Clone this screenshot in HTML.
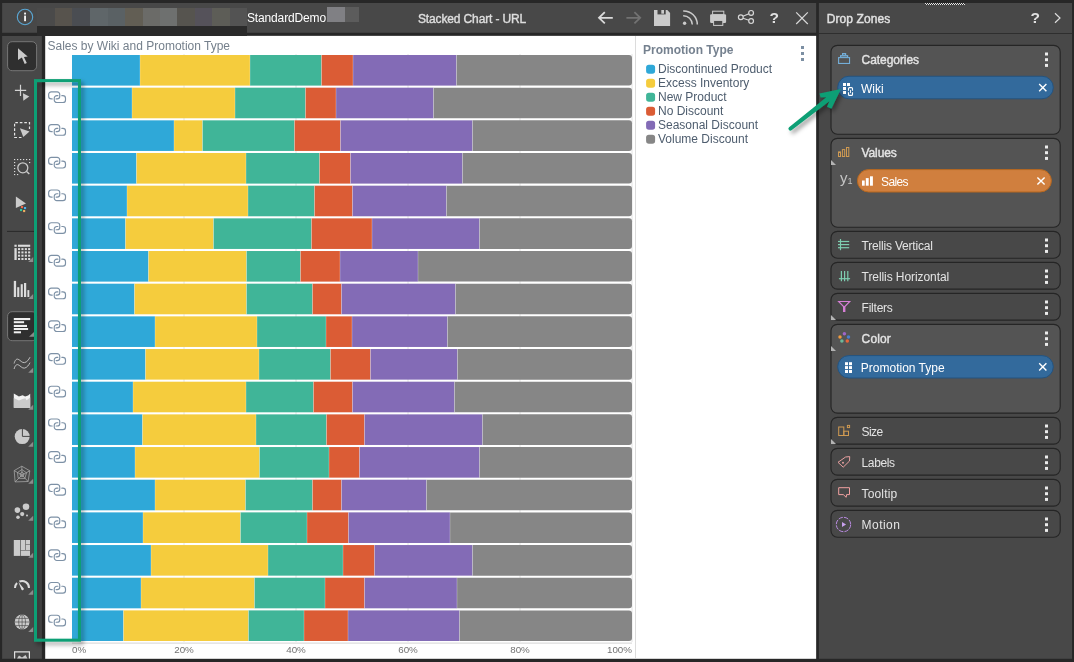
<!DOCTYPE html>
<html><head><meta charset="utf-8"><title>Stacked Chart - URL</title>
<style>
*{box-sizing:border-box;margin:0;padding:0}
html,body{width:1074px;height:662px;overflow:hidden;background:#272727}
body{position:relative;font-family:"Liberation Sans",sans-serif;color:#e6e6e6}
.abs{position:absolute}
.t{position:absolute;white-space:nowrap;line-height:1}
svg{position:absolute;left:0;top:0;overflow:visible}
</style></head><body>
<svg width="1074" height="662" viewBox="0 0 1074 662">
<rect x="2.1" y="3" width="814.05" height="29.8" fill="#484848"/>
<rect x="2.1" y="36" width="39.8" height="622.8" fill="#484848"/>
<rect x="45.2" y="35.85" width="770.95" height="622.95" fill="#fff"/>
<rect x="818.9" y="3" width="253.15" height="655.8" fill="#484848"/>
<rect x="37" y="26" width="210" height="10" fill="#2a2a2a"/>
</svg>

<!-- HEADER -->
<svg width="1074" height="40" viewBox="0 0 1074 40" shape-rendering="crispEdges">
<g id="blur">
<rect x="37" y="8" width="18" height="18" fill="#4a4a4a"/><rect x="55" y="8" width="17" height="18" fill="#57534d"/>
<rect x="72" y="8" width="18" height="18" fill="#4a4d52"/><rect x="90" y="8" width="18" height="18" fill="#5f6669"/>
<rect x="108" y="8" width="17" height="18" fill="#5a6164"/><rect x="125" y="8" width="18" height="18" fill="#625e54"/>
<rect x="143" y="8" width="17" height="18" fill="#6b6b68"/><rect x="160" y="8" width="17" height="18" fill="#6e706f"/>
<rect x="177" y="8" width="18" height="18" fill="#56544f"/><rect x="195" y="8" width="17" height="18" fill="#55525a"/>
<rect x="212" y="8" width="18" height="18" fill="#5d5d57"/><rect x="230" y="8" width="17" height="18" fill="#535353"/>
<rect x="327" y="7" width="18" height="15" fill="#808084"/><rect x="345" y="7" width="14" height="15" fill="#5c5c5c"/>
</g>
</svg>
<div class="t" style="left:769.5px;top:9.6px;font-size:15.5px;font-weight:bold;color:#e2e2e2">?</div>
<div class="t" style="left:247px;top:11.7px;font-size:12px;letter-spacing:-0.15px;color:#fff">StandardDemo</div>
<div class="t" style="left:418px;top:12.8px;font-size:12px;letter-spacing:-0.14px;-webkit-text-stroke:0.4px #dedede;color:#dedede">Stacked Chart - URL</div>

<!-- CHART -->
<div class="t" style="left:47.5px;top:40px;font-size:12px;color:#75808c">Sales by Wiki and Promotion Type</div>
<svg width="1074" height="662" viewBox="0 0 1074 662">

<g shape-rendering="auto">
<!-- grid -->
<g stroke="#e4e4e4" stroke-width="1">
<line x1="184" y1="54" x2="184" y2="642"/><line x1="296" y1="54" x2="296" y2="642"/><line x1="408" y1="54" x2="408" y2="642"/><line x1="520" y1="54" x2="520" y2="642"/><line x1="632" y1="54" x2="632" y2="642"/>
<line x1="72" y1="643.1" x2="632" y2="643.1" stroke="#d4d4d4"/>
<line x1="635.5" y1="36" x2="635.5" y2="658" stroke="#dcdcdc"/>
</g>
<rect x="72.0" y="55.00" width="68.0" height="30.6" fill="#2fa8d8"/>
<rect x="140.0" y="55.00" width="110.0" height="30.6" fill="#f5cc3d"/>
<rect x="250.0" y="55.00" width="71.5" height="30.6" fill="#40b598"/>
<rect x="321.5" y="55.00" width="31.5" height="30.6" fill="#db5c35"/>
<rect x="353.0" y="55.00" width="103.5" height="30.6" fill="#836bb6"/>
<path d="M456.5 55.00h172.5a3 3 0 0 1 3 3v24.6a3 3 0 0 1 -3 3h-172.5z" fill="#868686"/>
<rect x="139.5" y="55.00" width="1" height="30.6" fill="#fff" opacity=".26"/>
<rect x="249.5" y="55.00" width="1" height="30.6" fill="#fff" opacity=".26"/>
<rect x="321.0" y="55.00" width="1" height="30.6" fill="#fff" opacity=".26"/>
<rect x="352.5" y="55.00" width="1" height="30.6" fill="#fff" opacity=".26"/>
<rect x="456.0" y="55.00" width="1" height="30.6" fill="#fff" opacity=".26"/>
<rect x="72.0" y="87.67" width="60.0" height="30.6" fill="#2fa8d8"/>
<rect x="132.0" y="87.67" width="103.0" height="30.6" fill="#f5cc3d"/>
<rect x="235.0" y="87.67" width="70.5" height="30.6" fill="#40b598"/>
<rect x="305.5" y="87.67" width="30.5" height="30.6" fill="#db5c35"/>
<rect x="336.0" y="87.67" width="97.5" height="30.6" fill="#836bb6"/>
<path d="M433.5 87.67h195.5a3 3 0 0 1 3 3v24.6a3 3 0 0 1 -3 3h-195.5z" fill="#868686"/>
<rect x="131.5" y="87.67" width="1" height="30.6" fill="#fff" opacity=".26"/>
<rect x="234.5" y="87.67" width="1" height="30.6" fill="#fff" opacity=".26"/>
<rect x="305.0" y="87.67" width="1" height="30.6" fill="#fff" opacity=".26"/>
<rect x="335.5" y="87.67" width="1" height="30.6" fill="#fff" opacity=".26"/>
<rect x="433.0" y="87.67" width="1" height="30.6" fill="#fff" opacity=".26"/>
<rect x="72.0" y="120.34" width="102.0" height="30.6" fill="#2fa8d8"/>
<rect x="174.0" y="120.34" width="28.5" height="30.6" fill="#f5cc3d"/>
<rect x="202.5" y="120.34" width="92.0" height="30.6" fill="#40b598"/>
<rect x="294.5" y="120.34" width="46.0" height="30.6" fill="#db5c35"/>
<rect x="340.5" y="120.34" width="132.0" height="30.6" fill="#836bb6"/>
<path d="M472.5 120.34h156.5a3 3 0 0 1 3 3v24.6a3 3 0 0 1 -3 3h-156.5z" fill="#868686"/>
<rect x="173.5" y="120.34" width="1" height="30.6" fill="#fff" opacity=".26"/>
<rect x="202.0" y="120.34" width="1" height="30.6" fill="#fff" opacity=".26"/>
<rect x="294.0" y="120.34" width="1" height="30.6" fill="#fff" opacity=".26"/>
<rect x="340.0" y="120.34" width="1" height="30.6" fill="#fff" opacity=".26"/>
<rect x="472.0" y="120.34" width="1" height="30.6" fill="#fff" opacity=".26"/>
<rect x="72.0" y="153.01" width="64.5" height="30.6" fill="#2fa8d8"/>
<rect x="136.5" y="153.01" width="109.5" height="30.6" fill="#f5cc3d"/>
<rect x="246.0" y="153.01" width="73.5" height="30.6" fill="#40b598"/>
<rect x="319.5" y="153.01" width="31.0" height="30.6" fill="#db5c35"/>
<rect x="350.5" y="153.01" width="112.0" height="30.6" fill="#836bb6"/>
<path d="M462.5 153.01h166.5a3 3 0 0 1 3 3v24.6a3 3 0 0 1 -3 3h-166.5z" fill="#868686"/>
<rect x="136.0" y="153.01" width="1" height="30.6" fill="#fff" opacity=".26"/>
<rect x="245.5" y="153.01" width="1" height="30.6" fill="#fff" opacity=".26"/>
<rect x="319.0" y="153.01" width="1" height="30.6" fill="#fff" opacity=".26"/>
<rect x="350.0" y="153.01" width="1" height="30.6" fill="#fff" opacity=".26"/>
<rect x="462.0" y="153.01" width="1" height="30.6" fill="#fff" opacity=".26"/>
<rect x="72.0" y="185.68" width="55.0" height="30.6" fill="#2fa8d8"/>
<rect x="127.0" y="185.68" width="121.0" height="30.6" fill="#f5cc3d"/>
<rect x="248.0" y="185.68" width="66.5" height="30.6" fill="#40b598"/>
<rect x="314.5" y="185.68" width="38.0" height="30.6" fill="#db5c35"/>
<rect x="352.5" y="185.68" width="94.0" height="30.6" fill="#836bb6"/>
<path d="M446.5 185.68h182.5a3 3 0 0 1 3 3v24.6a3 3 0 0 1 -3 3h-182.5z" fill="#868686"/>
<rect x="126.5" y="185.68" width="1" height="30.6" fill="#fff" opacity=".26"/>
<rect x="247.5" y="185.68" width="1" height="30.6" fill="#fff" opacity=".26"/>
<rect x="314.0" y="185.68" width="1" height="30.6" fill="#fff" opacity=".26"/>
<rect x="352.0" y="185.68" width="1" height="30.6" fill="#fff" opacity=".26"/>
<rect x="446.0" y="185.68" width="1" height="30.6" fill="#fff" opacity=".26"/>
<rect x="72.0" y="218.35" width="53.5" height="30.6" fill="#2fa8d8"/>
<rect x="125.5" y="218.35" width="88.0" height="30.6" fill="#f5cc3d"/>
<rect x="213.5" y="218.35" width="98.0" height="30.6" fill="#40b598"/>
<rect x="311.5" y="218.35" width="60.5" height="30.6" fill="#db5c35"/>
<rect x="372.0" y="218.35" width="107.5" height="30.6" fill="#836bb6"/>
<path d="M479.5 218.35h149.5a3 3 0 0 1 3 3v24.6a3 3 0 0 1 -3 3h-149.5z" fill="#868686"/>
<rect x="125.0" y="218.35" width="1" height="30.6" fill="#fff" opacity=".26"/>
<rect x="213.0" y="218.35" width="1" height="30.6" fill="#fff" opacity=".26"/>
<rect x="311.0" y="218.35" width="1" height="30.6" fill="#fff" opacity=".26"/>
<rect x="371.5" y="218.35" width="1" height="30.6" fill="#fff" opacity=".26"/>
<rect x="479.0" y="218.35" width="1" height="30.6" fill="#fff" opacity=".26"/>
<rect x="72.0" y="251.02" width="76.5" height="30.6" fill="#2fa8d8"/>
<rect x="148.5" y="251.02" width="98.0" height="30.6" fill="#f5cc3d"/>
<rect x="246.5" y="251.02" width="54.0" height="30.6" fill="#40b598"/>
<rect x="300.5" y="251.02" width="39.5" height="30.6" fill="#db5c35"/>
<rect x="340.0" y="251.02" width="78.0" height="30.6" fill="#836bb6"/>
<path d="M418.0 251.02h211.0a3 3 0 0 1 3 3v24.6a3 3 0 0 1 -3 3h-211.0z" fill="#868686"/>
<rect x="148.0" y="251.02" width="1" height="30.6" fill="#fff" opacity=".26"/>
<rect x="246.0" y="251.02" width="1" height="30.6" fill="#fff" opacity=".26"/>
<rect x="300.0" y="251.02" width="1" height="30.6" fill="#fff" opacity=".26"/>
<rect x="339.5" y="251.02" width="1" height="30.6" fill="#fff" opacity=".26"/>
<rect x="417.5" y="251.02" width="1" height="30.6" fill="#fff" opacity=".26"/>
<rect x="72.0" y="283.69" width="62.5" height="30.6" fill="#2fa8d8"/>
<rect x="134.5" y="283.69" width="112.0" height="30.6" fill="#f5cc3d"/>
<rect x="246.5" y="283.69" width="66.0" height="30.6" fill="#40b598"/>
<rect x="312.5" y="283.69" width="29.0" height="30.6" fill="#db5c35"/>
<rect x="341.5" y="283.69" width="114.0" height="30.6" fill="#836bb6"/>
<path d="M455.5 283.69h173.5a3 3 0 0 1 3 3v24.6a3 3 0 0 1 -3 3h-173.5z" fill="#868686"/>
<rect x="134.0" y="283.69" width="1" height="30.6" fill="#fff" opacity=".26"/>
<rect x="246.0" y="283.69" width="1" height="30.6" fill="#fff" opacity=".26"/>
<rect x="312.0" y="283.69" width="1" height="30.6" fill="#fff" opacity=".26"/>
<rect x="341.0" y="283.69" width="1" height="30.6" fill="#fff" opacity=".26"/>
<rect x="455.0" y="283.69" width="1" height="30.6" fill="#fff" opacity=".26"/>
<rect x="72.0" y="316.36" width="83.0" height="30.6" fill="#2fa8d8"/>
<rect x="155.0" y="316.36" width="102.0" height="30.6" fill="#f5cc3d"/>
<rect x="257.0" y="316.36" width="69.0" height="30.6" fill="#40b598"/>
<rect x="326.0" y="316.36" width="26.0" height="30.6" fill="#db5c35"/>
<rect x="352.0" y="316.36" width="95.5" height="30.6" fill="#836bb6"/>
<path d="M447.5 316.36h181.5a3 3 0 0 1 3 3v24.6a3 3 0 0 1 -3 3h-181.5z" fill="#868686"/>
<rect x="154.5" y="316.36" width="1" height="30.6" fill="#fff" opacity=".26"/>
<rect x="256.5" y="316.36" width="1" height="30.6" fill="#fff" opacity=".26"/>
<rect x="325.5" y="316.36" width="1" height="30.6" fill="#fff" opacity=".26"/>
<rect x="351.5" y="316.36" width="1" height="30.6" fill="#fff" opacity=".26"/>
<rect x="447.0" y="316.36" width="1" height="30.6" fill="#fff" opacity=".26"/>
<rect x="72.0" y="349.03" width="73.5" height="30.6" fill="#2fa8d8"/>
<rect x="145.5" y="349.03" width="113.5" height="30.6" fill="#f5cc3d"/>
<rect x="259.0" y="349.03" width="71.5" height="30.6" fill="#40b598"/>
<rect x="330.5" y="349.03" width="40.0" height="30.6" fill="#db5c35"/>
<rect x="370.5" y="349.03" width="87.0" height="30.6" fill="#836bb6"/>
<path d="M457.5 349.03h171.5a3 3 0 0 1 3 3v24.6a3 3 0 0 1 -3 3h-171.5z" fill="#868686"/>
<rect x="145.0" y="349.03" width="1" height="30.6" fill="#fff" opacity=".26"/>
<rect x="258.5" y="349.03" width="1" height="30.6" fill="#fff" opacity=".26"/>
<rect x="330.0" y="349.03" width="1" height="30.6" fill="#fff" opacity=".26"/>
<rect x="370.0" y="349.03" width="1" height="30.6" fill="#fff" opacity=".26"/>
<rect x="457.0" y="349.03" width="1" height="30.6" fill="#fff" opacity=".26"/>
<rect x="72.0" y="381.70" width="61.0" height="30.6" fill="#2fa8d8"/>
<rect x="133.0" y="381.70" width="113.0" height="30.6" fill="#f5cc3d"/>
<rect x="246.0" y="381.70" width="67.5" height="30.6" fill="#40b598"/>
<rect x="313.5" y="381.70" width="39.0" height="30.6" fill="#db5c35"/>
<rect x="352.5" y="381.70" width="102.0" height="30.6" fill="#836bb6"/>
<path d="M454.5 381.70h174.5a3 3 0 0 1 3 3v24.6a3 3 0 0 1 -3 3h-174.5z" fill="#868686"/>
<rect x="132.5" y="381.70" width="1" height="30.6" fill="#fff" opacity=".26"/>
<rect x="245.5" y="381.70" width="1" height="30.6" fill="#fff" opacity=".26"/>
<rect x="313.0" y="381.70" width="1" height="30.6" fill="#fff" opacity=".26"/>
<rect x="352.0" y="381.70" width="1" height="30.6" fill="#fff" opacity=".26"/>
<rect x="454.0" y="381.70" width="1" height="30.6" fill="#fff" opacity=".26"/>
<rect x="72.0" y="414.37" width="70.5" height="30.6" fill="#2fa8d8"/>
<rect x="142.5" y="414.37" width="113.5" height="30.6" fill="#f5cc3d"/>
<rect x="256.0" y="414.37" width="70.5" height="30.6" fill="#40b598"/>
<rect x="326.5" y="414.37" width="38.0" height="30.6" fill="#db5c35"/>
<rect x="364.5" y="414.37" width="118.0" height="30.6" fill="#836bb6"/>
<path d="M482.5 414.37h146.5a3 3 0 0 1 3 3v24.6a3 3 0 0 1 -3 3h-146.5z" fill="#868686"/>
<rect x="142.0" y="414.37" width="1" height="30.6" fill="#fff" opacity=".26"/>
<rect x="255.5" y="414.37" width="1" height="30.6" fill="#fff" opacity=".26"/>
<rect x="326.0" y="414.37" width="1" height="30.6" fill="#fff" opacity=".26"/>
<rect x="364.0" y="414.37" width="1" height="30.6" fill="#fff" opacity=".26"/>
<rect x="482.0" y="414.37" width="1" height="30.6" fill="#fff" opacity=".26"/>
<rect x="72.0" y="447.04" width="63.0" height="30.6" fill="#2fa8d8"/>
<rect x="135.0" y="447.04" width="124.5" height="30.6" fill="#f5cc3d"/>
<rect x="259.5" y="447.04" width="69.5" height="30.6" fill="#40b598"/>
<rect x="329.0" y="447.04" width="30.5" height="30.6" fill="#db5c35"/>
<rect x="359.5" y="447.04" width="120.0" height="30.6" fill="#836bb6"/>
<path d="M479.5 447.04h149.5a3 3 0 0 1 3 3v24.6a3 3 0 0 1 -3 3h-149.5z" fill="#868686"/>
<rect x="134.5" y="447.04" width="1" height="30.6" fill="#fff" opacity=".26"/>
<rect x="259.0" y="447.04" width="1" height="30.6" fill="#fff" opacity=".26"/>
<rect x="328.5" y="447.04" width="1" height="30.6" fill="#fff" opacity=".26"/>
<rect x="359.0" y="447.04" width="1" height="30.6" fill="#fff" opacity=".26"/>
<rect x="479.0" y="447.04" width="1" height="30.6" fill="#fff" opacity=".26"/>
<rect x="72.0" y="479.71" width="83.0" height="30.6" fill="#2fa8d8"/>
<rect x="155.0" y="479.71" width="90.5" height="30.6" fill="#f5cc3d"/>
<rect x="245.5" y="479.71" width="67.0" height="30.6" fill="#40b598"/>
<rect x="312.5" y="479.71" width="29.0" height="30.6" fill="#db5c35"/>
<rect x="341.5" y="479.71" width="85.0" height="30.6" fill="#836bb6"/>
<path d="M426.5 479.71h202.5a3 3 0 0 1 3 3v24.6a3 3 0 0 1 -3 3h-202.5z" fill="#868686"/>
<rect x="154.5" y="479.71" width="1" height="30.6" fill="#fff" opacity=".26"/>
<rect x="245.0" y="479.71" width="1" height="30.6" fill="#fff" opacity=".26"/>
<rect x="312.0" y="479.71" width="1" height="30.6" fill="#fff" opacity=".26"/>
<rect x="341.0" y="479.71" width="1" height="30.6" fill="#fff" opacity=".26"/>
<rect x="426.0" y="479.71" width="1" height="30.6" fill="#fff" opacity=".26"/>
<rect x="72.0" y="512.38" width="71.0" height="30.6" fill="#2fa8d8"/>
<rect x="143.0" y="512.38" width="97.5" height="30.6" fill="#f5cc3d"/>
<rect x="240.5" y="512.38" width="66.5" height="30.6" fill="#40b598"/>
<rect x="307.0" y="512.38" width="41.5" height="30.6" fill="#db5c35"/>
<rect x="348.5" y="512.38" width="101.5" height="30.6" fill="#836bb6"/>
<path d="M450.0 512.38h179.0a3 3 0 0 1 3 3v24.6a3 3 0 0 1 -3 3h-179.0z" fill="#868686"/>
<rect x="142.5" y="512.38" width="1" height="30.6" fill="#fff" opacity=".26"/>
<rect x="240.0" y="512.38" width="1" height="30.6" fill="#fff" opacity=".26"/>
<rect x="306.5" y="512.38" width="1" height="30.6" fill="#fff" opacity=".26"/>
<rect x="348.0" y="512.38" width="1" height="30.6" fill="#fff" opacity=".26"/>
<rect x="449.5" y="512.38" width="1" height="30.6" fill="#fff" opacity=".26"/>
<rect x="72.0" y="545.05" width="79.0" height="30.6" fill="#2fa8d8"/>
<rect x="151.0" y="545.05" width="117.0" height="30.6" fill="#f5cc3d"/>
<rect x="268.0" y="545.05" width="75.0" height="30.6" fill="#40b598"/>
<rect x="343.0" y="545.05" width="31.5" height="30.6" fill="#db5c35"/>
<rect x="374.5" y="545.05" width="98.0" height="30.6" fill="#836bb6"/>
<path d="M472.5 545.05h156.5a3 3 0 0 1 3 3v24.6a3 3 0 0 1 -3 3h-156.5z" fill="#868686"/>
<rect x="150.5" y="545.05" width="1" height="30.6" fill="#fff" opacity=".26"/>
<rect x="267.5" y="545.05" width="1" height="30.6" fill="#fff" opacity=".26"/>
<rect x="342.5" y="545.05" width="1" height="30.6" fill="#fff" opacity=".26"/>
<rect x="374.0" y="545.05" width="1" height="30.6" fill="#fff" opacity=".26"/>
<rect x="472.0" y="545.05" width="1" height="30.6" fill="#fff" opacity=".26"/>
<rect x="72.0" y="577.72" width="69.0" height="30.6" fill="#2fa8d8"/>
<rect x="141.0" y="577.72" width="113.5" height="30.6" fill="#f5cc3d"/>
<rect x="254.5" y="577.72" width="70.5" height="30.6" fill="#40b598"/>
<rect x="325.0" y="577.72" width="39.5" height="30.6" fill="#db5c35"/>
<rect x="364.5" y="577.72" width="92.5" height="30.6" fill="#836bb6"/>
<path d="M457.0 577.72h172.0a3 3 0 0 1 3 3v24.6a3 3 0 0 1 -3 3h-172.0z" fill="#868686"/>
<rect x="140.5" y="577.72" width="1" height="30.6" fill="#fff" opacity=".26"/>
<rect x="254.0" y="577.72" width="1" height="30.6" fill="#fff" opacity=".26"/>
<rect x="324.5" y="577.72" width="1" height="30.6" fill="#fff" opacity=".26"/>
<rect x="364.0" y="577.72" width="1" height="30.6" fill="#fff" opacity=".26"/>
<rect x="456.5" y="577.72" width="1" height="30.6" fill="#fff" opacity=".26"/>
<rect x="72.0" y="610.39" width="51.5" height="30.6" fill="#2fa8d8"/>
<rect x="123.5" y="610.39" width="125.0" height="30.6" fill="#f5cc3d"/>
<rect x="248.5" y="610.39" width="55.5" height="30.6" fill="#40b598"/>
<rect x="304.0" y="610.39" width="44.0" height="30.6" fill="#db5c35"/>
<rect x="348.0" y="610.39" width="111.5" height="30.6" fill="#836bb6"/>
<path d="M459.5 610.39h169.5a3 3 0 0 1 3 3v24.6a3 3 0 0 1 -3 3h-169.5z" fill="#868686"/>
<rect x="123.0" y="610.39" width="1" height="30.6" fill="#fff" opacity=".26"/>
<rect x="248.0" y="610.39" width="1" height="30.6" fill="#fff" opacity=".26"/>
<rect x="303.5" y="610.39" width="1" height="30.6" fill="#fff" opacity=".26"/>
<rect x="347.5" y="610.39" width="1" height="30.6" fill="#fff" opacity=".26"/>
<rect x="459.0" y="610.39" width="1" height="30.6" fill="#fff" opacity=".26"/>
<g fill="none" stroke="#7d91a6" stroke-width="1.15" stroke-linecap="round"><g transform="translate(48.1 91.33)"><path d="M8 7.6H9.05A2.6 2.6 0 0 0 11.65 5V3.15A2.6 2.6 0 0 0 9.05 .55H3.15A2.6 2.6 0 0 0 .55 3.15V5A2.6 2.6 0 0 0 3.15 7.6H4.1"/><path d="M9.8 4.3H8.75A2.6 2.6 0 0 0 6.15 6.9V8.6A2.6 2.6 0 0 0 8.75 11.2H14.8A2.6 2.6 0 0 0 17.4 8.6V6.9A2.6 2.6 0 0 0 14.8 4.3H13.7"/></g>
<g transform="translate(48.1 124.04)"><path d="M8 7.6H9.05A2.6 2.6 0 0 0 11.65 5V3.15A2.6 2.6 0 0 0 9.05 .55H3.15A2.6 2.6 0 0 0 .55 3.15V5A2.6 2.6 0 0 0 3.15 7.6H4.1"/><path d="M9.8 4.3H8.75A2.6 2.6 0 0 0 6.15 6.9V8.6A2.6 2.6 0 0 0 8.75 11.2H14.8A2.6 2.6 0 0 0 17.4 8.6V6.9A2.6 2.6 0 0 0 14.8 4.3H13.7"/></g>
<g transform="translate(48.1 156.75)"><path d="M8 7.6H9.05A2.6 2.6 0 0 0 11.65 5V3.15A2.6 2.6 0 0 0 9.05 .55H3.15A2.6 2.6 0 0 0 .55 3.15V5A2.6 2.6 0 0 0 3.15 7.6H4.1"/><path d="M9.8 4.3H8.75A2.6 2.6 0 0 0 6.15 6.9V8.6A2.6 2.6 0 0 0 8.75 11.2H14.8A2.6 2.6 0 0 0 17.4 8.6V6.9A2.6 2.6 0 0 0 14.8 4.3H13.7"/></g>
<g transform="translate(48.1 189.46)"><path d="M8 7.6H9.05A2.6 2.6 0 0 0 11.65 5V3.15A2.6 2.6 0 0 0 9.05 .55H3.15A2.6 2.6 0 0 0 .55 3.15V5A2.6 2.6 0 0 0 3.15 7.6H4.1"/><path d="M9.8 4.3H8.75A2.6 2.6 0 0 0 6.15 6.9V8.6A2.6 2.6 0 0 0 8.75 11.2H14.8A2.6 2.6 0 0 0 17.4 8.6V6.9A2.6 2.6 0 0 0 14.8 4.3H13.7"/></g>
<g transform="translate(48.1 222.17)"><path d="M8 7.6H9.05A2.6 2.6 0 0 0 11.65 5V3.15A2.6 2.6 0 0 0 9.05 .55H3.15A2.6 2.6 0 0 0 .55 3.15V5A2.6 2.6 0 0 0 3.15 7.6H4.1"/><path d="M9.8 4.3H8.75A2.6 2.6 0 0 0 6.15 6.9V8.6A2.6 2.6 0 0 0 8.75 11.2H14.8A2.6 2.6 0 0 0 17.4 8.6V6.9A2.6 2.6 0 0 0 14.8 4.3H13.7"/></g>
<g transform="translate(48.1 254.88)"><path d="M8 7.6H9.05A2.6 2.6 0 0 0 11.65 5V3.15A2.6 2.6 0 0 0 9.05 .55H3.15A2.6 2.6 0 0 0 .55 3.15V5A2.6 2.6 0 0 0 3.15 7.6H4.1"/><path d="M9.8 4.3H8.75A2.6 2.6 0 0 0 6.15 6.9V8.6A2.6 2.6 0 0 0 8.75 11.2H14.8A2.6 2.6 0 0 0 17.4 8.6V6.9A2.6 2.6 0 0 0 14.8 4.3H13.7"/></g>
<g transform="translate(48.1 287.59)"><path d="M8 7.6H9.05A2.6 2.6 0 0 0 11.65 5V3.15A2.6 2.6 0 0 0 9.05 .55H3.15A2.6 2.6 0 0 0 .55 3.15V5A2.6 2.6 0 0 0 3.15 7.6H4.1"/><path d="M9.8 4.3H8.75A2.6 2.6 0 0 0 6.15 6.9V8.6A2.6 2.6 0 0 0 8.75 11.2H14.8A2.6 2.6 0 0 0 17.4 8.6V6.9A2.6 2.6 0 0 0 14.8 4.3H13.7"/></g>
<g transform="translate(48.1 320.30)"><path d="M8 7.6H9.05A2.6 2.6 0 0 0 11.65 5V3.15A2.6 2.6 0 0 0 9.05 .55H3.15A2.6 2.6 0 0 0 .55 3.15V5A2.6 2.6 0 0 0 3.15 7.6H4.1"/><path d="M9.8 4.3H8.75A2.6 2.6 0 0 0 6.15 6.9V8.6A2.6 2.6 0 0 0 8.75 11.2H14.8A2.6 2.6 0 0 0 17.4 8.6V6.9A2.6 2.6 0 0 0 14.8 4.3H13.7"/></g>
<g transform="translate(48.1 353.01)"><path d="M8 7.6H9.05A2.6 2.6 0 0 0 11.65 5V3.15A2.6 2.6 0 0 0 9.05 .55H3.15A2.6 2.6 0 0 0 .55 3.15V5A2.6 2.6 0 0 0 3.15 7.6H4.1"/><path d="M9.8 4.3H8.75A2.6 2.6 0 0 0 6.15 6.9V8.6A2.6 2.6 0 0 0 8.75 11.2H14.8A2.6 2.6 0 0 0 17.4 8.6V6.9A2.6 2.6 0 0 0 14.8 4.3H13.7"/></g>
<g transform="translate(48.1 385.72)"><path d="M8 7.6H9.05A2.6 2.6 0 0 0 11.65 5V3.15A2.6 2.6 0 0 0 9.05 .55H3.15A2.6 2.6 0 0 0 .55 3.15V5A2.6 2.6 0 0 0 3.15 7.6H4.1"/><path d="M9.8 4.3H8.75A2.6 2.6 0 0 0 6.15 6.9V8.6A2.6 2.6 0 0 0 8.75 11.2H14.8A2.6 2.6 0 0 0 17.4 8.6V6.9A2.6 2.6 0 0 0 14.8 4.3H13.7"/></g>
<g transform="translate(48.1 418.43)"><path d="M8 7.6H9.05A2.6 2.6 0 0 0 11.65 5V3.15A2.6 2.6 0 0 0 9.05 .55H3.15A2.6 2.6 0 0 0 .55 3.15V5A2.6 2.6 0 0 0 3.15 7.6H4.1"/><path d="M9.8 4.3H8.75A2.6 2.6 0 0 0 6.15 6.9V8.6A2.6 2.6 0 0 0 8.75 11.2H14.8A2.6 2.6 0 0 0 17.4 8.6V6.9A2.6 2.6 0 0 0 14.8 4.3H13.7"/></g>
<g transform="translate(48.1 451.14)"><path d="M8 7.6H9.05A2.6 2.6 0 0 0 11.65 5V3.15A2.6 2.6 0 0 0 9.05 .55H3.15A2.6 2.6 0 0 0 .55 3.15V5A2.6 2.6 0 0 0 3.15 7.6H4.1"/><path d="M9.8 4.3H8.75A2.6 2.6 0 0 0 6.15 6.9V8.6A2.6 2.6 0 0 0 8.75 11.2H14.8A2.6 2.6 0 0 0 17.4 8.6V6.9A2.6 2.6 0 0 0 14.8 4.3H13.7"/></g>
<g transform="translate(48.1 483.85)"><path d="M8 7.6H9.05A2.6 2.6 0 0 0 11.65 5V3.15A2.6 2.6 0 0 0 9.05 .55H3.15A2.6 2.6 0 0 0 .55 3.15V5A2.6 2.6 0 0 0 3.15 7.6H4.1"/><path d="M9.8 4.3H8.75A2.6 2.6 0 0 0 6.15 6.9V8.6A2.6 2.6 0 0 0 8.75 11.2H14.8A2.6 2.6 0 0 0 17.4 8.6V6.9A2.6 2.6 0 0 0 14.8 4.3H13.7"/></g>
<g transform="translate(48.1 516.56)"><path d="M8 7.6H9.05A2.6 2.6 0 0 0 11.65 5V3.15A2.6 2.6 0 0 0 9.05 .55H3.15A2.6 2.6 0 0 0 .55 3.15V5A2.6 2.6 0 0 0 3.15 7.6H4.1"/><path d="M9.8 4.3H8.75A2.6 2.6 0 0 0 6.15 6.9V8.6A2.6 2.6 0 0 0 8.75 11.2H14.8A2.6 2.6 0 0 0 17.4 8.6V6.9A2.6 2.6 0 0 0 14.8 4.3H13.7"/></g>
<g transform="translate(48.1 549.27)"><path d="M8 7.6H9.05A2.6 2.6 0 0 0 11.65 5V3.15A2.6 2.6 0 0 0 9.05 .55H3.15A2.6 2.6 0 0 0 .55 3.15V5A2.6 2.6 0 0 0 3.15 7.6H4.1"/><path d="M9.8 4.3H8.75A2.6 2.6 0 0 0 6.15 6.9V8.6A2.6 2.6 0 0 0 8.75 11.2H14.8A2.6 2.6 0 0 0 17.4 8.6V6.9A2.6 2.6 0 0 0 14.8 4.3H13.7"/></g>
<g transform="translate(48.1 581.98)"><path d="M8 7.6H9.05A2.6 2.6 0 0 0 11.65 5V3.15A2.6 2.6 0 0 0 9.05 .55H3.15A2.6 2.6 0 0 0 .55 3.15V5A2.6 2.6 0 0 0 3.15 7.6H4.1"/><path d="M9.8 4.3H8.75A2.6 2.6 0 0 0 6.15 6.9V8.6A2.6 2.6 0 0 0 8.75 11.2H14.8A2.6 2.6 0 0 0 17.4 8.6V6.9A2.6 2.6 0 0 0 14.8 4.3H13.7"/></g>
<g transform="translate(48.1 614.69)"><path d="M8 7.6H9.05A2.6 2.6 0 0 0 11.65 5V3.15A2.6 2.6 0 0 0 9.05 .55H3.15A2.6 2.6 0 0 0 .55 3.15V5A2.6 2.6 0 0 0 3.15 7.6H4.1"/><path d="M9.8 4.3H8.75A2.6 2.6 0 0 0 6.15 6.9V8.6A2.6 2.6 0 0 0 8.75 11.2H14.8A2.6 2.6 0 0 0 17.4 8.6V6.9A2.6 2.6 0 0 0 14.8 4.3H13.7"/></g></g>
</g>
<g font-family="Liberation Sans, sans-serif" font-size="9.8" fill="#727272">
<text x="72" y="653">0%</text><text x="184" y="653" text-anchor="middle">20%</text><text x="296" y="653" text-anchor="middle">40%</text><text x="408" y="653" text-anchor="middle">60%</text><text x="520" y="653" text-anchor="middle">80%</text><text x="632" y="653" text-anchor="end">100%</text>
</g>
<!-- legend -->
<g font-family="Liberation Sans, sans-serif" font-size="12" fill="#4e5d6e">
<text x="643" y="53.5" font-weight="bold" fill="#75818f">Promotion Type</text>
<text x="658" y="73">Discontinued Product</text>
<text x="658" y="87">Excess Inventory</text>
<text x="658" y="101">New Product</text>
<text x="658" y="115">No Discount</text>
<text x="658" y="129">Seasonal Discount</text>
<text x="658" y="143">Volume Discount</text>
</g>
<g>
<rect x="646.1" y="64.8" width="9" height="9" rx="2.8" fill="#2fa8d8"/>
<rect x="646.1" y="78.8" width="9" height="9" rx="2.8" fill="#f5cc3d"/>
<rect x="646.1" y="92.8" width="9" height="9" rx="2.8" fill="#40b598"/>
<rect x="646.1" y="106.8" width="9" height="9" rx="2.8" fill="#db5c35"/>
<rect x="646.1" y="120.8" width="9" height="9" rx="2.8" fill="#836bb6"/>
<rect x="646.1" y="134.8" width="9" height="9" rx="2.8" fill="#868686"/>
<g fill="#7c8fa3"><rect x="801" y="46" width="3" height="3"/><rect x="801" y="52" width="3" height="3"/><rect x="801" y="58" width="3" height="3"/></g>
</g>
</svg>
<svg width="1074" height="662" viewBox="0 0 1074 662">
<rect x="831" y="45.3" width="229.2" height="88.9" rx="6.5" fill="#545454" stroke="#252525" stroke-width="1.15"/>
<rect x="831" y="138.3" width="229.2" height="88.9" rx="6.5" fill="#545454" stroke="#252525" stroke-width="1.15"/>
<rect x="831" y="231.3" width="229.2" height="26.9" rx="6.5" fill="#484848" stroke="#252525" stroke-width="1.15"/>
<rect x="831" y="262.3" width="229.2" height="26.9" rx="6.5" fill="#484848" stroke="#252525" stroke-width="1.15"/>
<rect x="831" y="293.3" width="229.2" height="26.9" rx="6.5" fill="#484848" stroke="#252525" stroke-width="1.15"/>
<rect x="831" y="324.3" width="229.2" height="88.9" rx="6.5" fill="#545454" stroke="#252525" stroke-width="1.15"/>
<rect x="831" y="417.3" width="229.2" height="26.9" rx="6.5" fill="#484848" stroke="#252525" stroke-width="1.15"/>
<rect x="831" y="448.3" width="229.2" height="26.9" rx="6.5" fill="#484848" stroke="#252525" stroke-width="1.15"/>
<rect x="831" y="479.3" width="229.2" height="26.9" rx="6.5" fill="#484848" stroke="#252525" stroke-width="1.15"/>
<rect x="831" y="510.3" width="229.2" height="26.9" rx="6.5" fill="#484848" stroke="#252525" stroke-width="1.15"/>
<rect x="837.7" y="76.25" width="215.6" height="22.55" rx="11.25" fill="#336a9c" stroke="#24537f" stroke-width="1"/>
<rect x="857.4" y="169.6" width="194" height="22.4" rx="11.2" fill="#d07f3e" stroke="#b5671f" stroke-width="1"/>
<rect x="837.7" y="355.6" width="215.6" height="22.4" rx="11.2" fill="#336a9c" stroke="#24537f" stroke-width="1"/>
</svg>
<div class="abs" style="left:819px;top:32.7px;width:253px;height:1.3px;background:#2e2e2e"></div>
<div class="t" style="left:826.7px;top:13px;font-size:12px;letter-spacing:0.09px;-webkit-text-stroke:0.4px #e2e2e2;color:#e2e2e2">Drop Zones</div>
<div class="t" style="left:1030.6px;top:10.1px;font-size:15.5px;font-weight:bold;color:#e2e2e2">?</div>
<div class="t" style="left:861.6px;top:53.7px;font-size:12px;font-weight:normal;-webkit-text-stroke:0.4px #e4e4e4;letter-spacing:-0.06px;color:#e4e4e4">Categories</div>
<div class="t" style="left:861.6px;top:146.7px;font-size:12px;font-weight:normal;-webkit-text-stroke:0.4px #e4e4e4;letter-spacing:-0.14px;color:#e4e4e4">Values</div>
<div class="t" style="left:861.6px;top:239.7px;font-size:12px;font-weight:normal;letter-spacing:-0.2px;color:#e4e4e4">Trellis Vertical</div>
<div class="t" style="left:861.6px;top:270.7px;font-size:12px;font-weight:normal;letter-spacing:-0.08px;color:#e4e4e4">Trellis Horizontal</div>
<div class="t" style="left:861.6px;top:301.7px;font-size:12px;font-weight:normal;letter-spacing:-0.24px;color:#e4e4e4">Filters</div>
<div class="t" style="left:861.6px;top:332.7px;font-size:12px;font-weight:normal;-webkit-text-stroke:0.4px #e4e4e4;letter-spacing:0.14px;color:#e4e4e4">Color</div>
<div class="t" style="left:861.6px;top:425.7px;font-size:12px;font-weight:normal;letter-spacing:-0.59px;color:#e4e4e4">Size</div>
<div class="t" style="left:861.6px;top:456.7px;font-size:12px;font-weight:normal;letter-spacing:-0.4px;color:#e4e4e4">Labels</div>
<div class="t" style="left:861.6px;top:487.7px;font-size:12px;font-weight:normal;letter-spacing:0.14px;color:#e4e4e4">Tooltip</div>
<div class="t" style="left:861.6px;top:518.7px;font-size:12px;font-weight:normal;letter-spacing:0.44px;color:#e4e4e4">Motion</div>
<div class="t" style="left:861px;top:82.9px;font-size:12px;color:#fff">Wiki</div>
<div class="t" style="left:881px;top:176px;font-size:12px;letter-spacing:-0.6px;color:#fff">Sales</div>
<div class="t" style="left:860.8px;top:362.1px;font-size:12px;color:#fff">Promotion Type</div>
<div class="t" style="left:840px;top:169.5px;font-size:15px;color:#c4c4c4">y</div>
<div class="t" style="left:847.6px;top:177px;font-size:9px;color:#c4c4c4">1</div>
<svg width="1074" height="662" viewBox="0 0 1074 662">
<rect x="925" y="3" width="40" height="2" fill="#333"/><line x1="925" y1="3.5" x2="965" y2="3.5" stroke="#e6e6e6" stroke-width="1" stroke-dasharray="1 1"/><line x1="926" y1="4.5" x2="965" y2="4.5" stroke="#e6e6e6" stroke-width="1" stroke-dasharray="1 1"/>
<path d="M1055 13.2L1060 18L1055 22.8" fill="none" stroke="#dcdcdc" stroke-width="1.2"/>
<rect x="1045" y="52.5" width="3" height="3" fill="#ececec"/>
<rect x="1045" y="58.2" width="3" height="3" fill="#ececec"/>
<rect x="1045" y="63.9" width="3" height="3" fill="#ececec"/>
<rect x="1045" y="145.5" width="3" height="3" fill="#ececec"/>
<rect x="1045" y="151.2" width="3" height="3" fill="#ececec"/>
<rect x="1045" y="156.9" width="3" height="3" fill="#ececec"/>
<rect x="1045" y="238.5" width="3" height="3" fill="#ececec"/>
<rect x="1045" y="244.2" width="3" height="3" fill="#ececec"/>
<rect x="1045" y="249.9" width="3" height="3" fill="#ececec"/>
<rect x="1045" y="269.5" width="3" height="3" fill="#ececec"/>
<rect x="1045" y="275.2" width="3" height="3" fill="#ececec"/>
<rect x="1045" y="280.9" width="3" height="3" fill="#ececec"/>
<rect x="1045" y="300.5" width="3" height="3" fill="#ececec"/>
<rect x="1045" y="306.2" width="3" height="3" fill="#ececec"/>
<rect x="1045" y="311.9" width="3" height="3" fill="#ececec"/>
<rect x="1045" y="331.5" width="3" height="3" fill="#ececec"/>
<rect x="1045" y="337.2" width="3" height="3" fill="#ececec"/>
<rect x="1045" y="342.9" width="3" height="3" fill="#ececec"/>
<rect x="1045" y="424.5" width="3" height="3" fill="#ececec"/>
<rect x="1045" y="430.2" width="3" height="3" fill="#ececec"/>
<rect x="1045" y="435.9" width="3" height="3" fill="#ececec"/>
<rect x="1045" y="455.5" width="3" height="3" fill="#ececec"/>
<rect x="1045" y="461.2" width="3" height="3" fill="#ececec"/>
<rect x="1045" y="466.9" width="3" height="3" fill="#ececec"/>
<rect x="1045" y="486.5" width="3" height="3" fill="#ececec"/>
<rect x="1045" y="492.2" width="3" height="3" fill="#ececec"/>
<rect x="1045" y="497.9" width="3" height="3" fill="#ececec"/>
<rect x="1045" y="517.5" width="3" height="3" fill="#ececec"/>
<rect x="1045" y="523.2" width="3" height="3" fill="#ececec"/>
<rect x="1045" y="528.9" width="3" height="3" fill="#ececec"/>
<path d="M831 160.0L836 165.0H831z" fill="#b4b4b4"/>
<path d="M831 315.0L836 320.0H831z" fill="#b4b4b4"/>
<path d="M831 346.0L836 351.0H831z" fill="#b4b4b4"/>
<path d="M831 439.0L836 444.0H831z" fill="#b4b4b4"/>
<path d="M1039.2 84.10000000000001L1046.3999999999999 91.3M1046.3999999999999 84.10000000000001L1039.2 91.3" stroke="#fff" stroke-width="1.4" fill="none"/>
<path d="M1037.4 177.4L1044.6 184.6M1044.6 177.4L1037.4 184.6" stroke="#fff" stroke-width="1.4" fill="none"/>
<path d="M1039.2 363.29999999999995L1046.3999999999999 370.5M1046.3999999999999 363.29999999999995L1039.2 370.5" stroke="#fff" stroke-width="1.4" fill="none"/>
<rect x="838.6" y="57.6" width="10.95" height="5.85" fill="none" stroke="#74aed8" stroke-width="1.1"/><rect x="840" y="55.1" width="8.2" height="2.3" fill="#74aed8"/><rect x="841.2" y="56.25" width="5.8" height=".5" fill="#535353"/><rect x="842" y="53" width="4.2" height="2.3" fill="#74aed8"/><rect x="843.2" y="54" width="1.7" height=".8" rx=".4" fill="#535353"/>
<g fill="#fff"><rect x="843" y="83" width="3" height="3"/><rect x="847" y="83" width="3" height="3"/><rect x="843" y="87" width="3" height="3"/><rect x="843" y="91" width="3" height="3"/></g>
<g fill="none" stroke="#fff" stroke-width="1.1"><path d="M848.5 90.8V88.6A1 1 0 0 1 849.5 87.6H851.5A1 1 0 0 1 852.5 88.6V90.8M848.5 92.2V94.4A1 1 0 0 0 849.5 95.4H851.5A1 1 0 0 0 852.5 94.4V92.2"/><line x1="850.5" y1="89.9" x2="850.5" y2="93.1" stroke-width=".9"/></g>
<g fill="none" stroke="#cf9a52" stroke-width="1"><rect x="838.5" y="151.9" width="2" height="4.6"/><rect x="842.4" y="149.6" width="2.3" height="6.9"/><rect x="846.5" y="147.5" width="2.3" height="9"/></g>
<g fill="#fff"><rect x="862" y="180.5" width="2.7" height="5.2"/><rect x="865.8" y="178.1" width="2.9" height="7.6"/><rect x="870" y="176.3" width="2.9" height="9.4"/></g>
<g fill="none" stroke="#7ecdb0" stroke-width="1.2"><line x1="840.5" y1="239" x2="840.5" y2="250.2"/><line x1="838" y1="241.5" x2="849.2" y2="241.5"/><line x1="838" y1="244.6" x2="849.2" y2="244.6"/><line x1="838" y1="247.7" x2="849.2" y2="247.7"/></g>
<g fill="none" stroke="#7ecdb0" stroke-width="1.2"><line x1="841.4" y1="271" x2="841.4" y2="281.2"/><line x1="844.6" y1="271" x2="844.6" y2="281.2"/><line x1="847.8" y1="271" x2="847.8" y2="281.2"/><line x1="838.9" y1="278.7" x2="850.1" y2="278.7"/></g>
<path d="M838.6 301.5H849.8L844.2 307.2z" fill="none" stroke="#d67fd6" stroke-width="1.1" stroke-linejoin="miter"/><rect x="843" y="306.5" width="2.4" height="5.5" fill="#d67fd6"/>
<circle cx="844.4" cy="333.7" r="1.75" fill="#a066c8"/>
<circle cx="848.5" cy="336.9" r="1.75" fill="#4a7fd0"/>
<circle cx="840" cy="336.9" r="1.75" fill="#f09a3e"/>
<circle cx="841.9" cy="341" r="1.75" fill="#6db89a"/>
<circle cx="847.3" cy="341" r="1.75" fill="#e8663a"/>
<rect x="845" y="362.2" width="3" height="3" fill="#fff"/>
<rect x="849" y="362.2" width="3" height="3" fill="#fff"/>
<rect x="845" y="366.1" width="3" height="3" fill="#fff"/>
<rect x="849" y="366.1" width="3" height="3" fill="#fff"/>
<rect x="845" y="370.0" width="3" height="3" fill="#fff"/>
<rect x="849" y="370.0" width="3" height="3" fill="#fff"/>
<g fill="none" stroke="#cf9a52" stroke-width="1"><rect x="838.7" y="427" width="5.1" height="8.5"/><rect x="843.8" y="431.2" width="4.7" height="4.3"/><rect x="847.4" y="425.4" width="2.2" height="2.2"/></g>
<path d="M838 462.3L845.6 457L849.7 456.6L849.5 461L843.2 467.2z" fill="none" stroke="#e8a0a0" stroke-width="1" stroke-linejoin="round"/><circle cx="843" cy="462.8" r="1" fill="#e8a0a0"/>
<path d="M838.7 487.7H849.5V494.6H846.6L846.2 497.3L843.3 494.6H838.7z" fill="none" stroke="#f0a0a0" stroke-width="1"/>
<circle cx="843.5" cy="524.5" r="7.2" fill="none" stroke="#b98be0" stroke-width="1" stroke-dasharray="4.5 1.2"/><path d="M842 521.9V527.1L846.1 524.5z" fill="#c9a0ee"/>
</svg>
<svg width="1074" height="662" viewBox="0 0 1074 662">
<circle cx="25" cy="17" r="7.7" fill="none" stroke="#5aa7d4" stroke-width="1.1"/>
<rect x="24.1" y="15.6" width="1.9" height="5.6" fill="#f2f2f2"/><rect x="24.1" y="12.6" width="1.9" height="1.9" fill="#f2f2f2"/>
<path d="M612.8 17.8H599.2M604.8 12.2L599 17.8L604.8 23.4" fill="none" stroke="#dadada" stroke-width="1.8"/>
<path d="M626.4 17.8H640M634.4 12.2L640.2 17.8L634.4 23.4" fill="none" stroke="#727272" stroke-width="1.8"/>
<path d="M654 10H667.3L670.1 13V26H654z" fill="#cbcbcb"/><rect x="657.5" y="10" width="8.2" height="4.4" fill="#484848"/><rect x="661.3" y="10" width="2.7" height="3.7" fill="#cbcbcb"/>
<circle cx="684.6" cy="23.2" r="1.7" fill="#cbcbcb"/><path d="M683.2 10.9A13.6 13.6 0 0 1 697.3 24.6M683.2 15.7A9 9 0 0 1 692.3 24.6" fill="none" stroke="#cbcbcb" stroke-width="1.5"/>
<rect x="710.1" y="14.2" width="16" height="8.8" rx="1.2" fill="#cbcbcb"/><rect x="712.6" y="11.2" width="11.2" height="3.4" fill="#484848" stroke="#cbcbcb" stroke-width="1"/><rect x="713.6" y="20.4" width="9.2" height="5" fill="#484848" stroke="#cbcbcb" stroke-width="1"/>
<g fill="none" stroke="#d6d6d6" stroke-width="1.2"><circle cx="740.8" cy="17.3" r="2.4"/><circle cx="751.1" cy="12.9" r="2.4"/><circle cx="751.1" cy="21.1" r="2.4"/><path d="M743 16.3L748.9 13.8M743 18.3L748.9 20.2"/></g>
<path d="M796.2 12.3L807.8 24M807.8 12.3L796.2 24" fill="none" stroke="#d8d8d8" stroke-width="1.2"/>
<rect x="7.6" y="41.7" width="29" height="29" rx="4.5" fill="#2f2f2f" stroke="#767676" stroke-width="1"/>
<rect x="7.6" y="311.7" width="29" height="29" rx="4.5" fill="#2f2f2f" stroke="#767676" stroke-width="1"/>
<path d="M18 48.2V59.9L21.9 57.5L24.7 64.1L26.8 63L23.9 56.9L27.7 56.4z" fill="#cbcbcb"/>
<path d="M14.9 90.4H26.2M20.5 84.8V96.1" stroke="#d4d4d4" stroke-width="1.2" fill="none"/><path d="M23 93.2L29.3 96.5L23.3 100.7z" fill="#cbcbcb"/>
<path d="M29.5 129V122.6H14.6V137.5H22" fill="none" stroke="#e6e6e6" stroke-width="1.2" stroke-dasharray="2.6 1.9"/><path d="M19.9 128.3L29.5 131.4L23.3 137.1z" fill="#cbcbcb"/>
<g fill="#ececec"><rect x="14.1" y="159" width="1.1" height="1.1"/><rect x="17.1" y="159" width="1.1" height="1.1"/><rect x="20.1" y="159" width="1.1" height="1.1"/><rect x="23.1" y="159" width="1.1" height="1.1"/><rect x="26.1" y="159" width="1.1" height="1.1"/><rect x="29.1" y="159" width="1.1" height="1.1"/><rect x="14.1" y="162.0" width="1.1" height="1.1"/><rect x="14.1" y="165.0" width="1.1" height="1.1"/><rect x="14.1" y="168.0" width="1.1" height="1.1"/><rect x="14.1" y="171.0" width="1.1" height="1.1"/><rect x="14.1" y="174.0" width="1.1" height="1.1"/><rect x="29.1" y="162" width="1.1" height="1.1"/><rect x="17.1" y="174" width="1.1" height="1.1"/></g>
<circle cx="22.8" cy="167.8" r="5" fill="none" stroke="#cbcbcb" stroke-width="1.3"/><path d="M26.6 171.5L29.3 174.1" stroke="#cbcbcb" stroke-width="1.4"/>
<path d="M15.9 196.4L26 203.5L15.9 208.1z" fill="#cbcbcb"/>
<rect x="21" y="206" width="2.1" height="2.1" fill="#f06448"/><rect x="24" y="207" width="2.1" height="2.1" fill="#4db4f0"/><rect x="20" y="209" width="2.1" height="2.1" fill="#2ecc9a"/><rect x="23.1" y="210" width="2.1" height="2.1" fill="#f0b060"/>
<rect x="7" y="230.9" width="30" height="1" fill="#2a2a2a"/>
<path d="M33.2 257.0V262.0H28.2z" fill="#8d8d8d"/>
<path d="M33.2 293.9V298.9H28.2z" fill="#8d8d8d"/>
<path d="M33.2 367.8V372.8H28.2z" fill="#8d8d8d"/>
<path d="M33.2 404.8V409.8H28.2z" fill="#8d8d8d"/>
<path d="M33.2 441.8V446.8H28.2z" fill="#8d8d8d"/>
<path d="M33.2 478.8V483.8H28.2z" fill="#8d8d8d"/>
<path d="M33.2 515.8V520.8H28.2z" fill="#8d8d8d"/>
<path d="M33.2 552.8V557.8H28.2z" fill="#8d8d8d"/>
<path d="M33.2 589.8V594.8H28.2z" fill="#8d8d8d"/>
<path d="M33.2 627.0V632.0H28.2z" fill="#8d8d8d"/>
<path d="M34 332V336.8H29z" fill="#8d8d8d"/>
<g fill="#dcdcdc"><rect x="14.4" y="244.7" width="2.3" height="2.1"/><rect x="18" y="244.7" width="12.2" height="2.1"/><rect x="14.4" y="248.1" width="2.3" height="11.9"/><rect x="18" y="248.1" width="2.1" height="2"/><rect x="18" y="251.4" width="2.1" height="2"/><rect x="18" y="254.7" width="2.1" height="2"/><rect x="18" y="258" width="2.1" height="2"/><rect x="21.4" y="248.1" width="2.1" height="2"/><rect x="21.4" y="251.4" width="2.1" height="2"/><rect x="21.4" y="254.7" width="2.1" height="2"/><rect x="21.4" y="258" width="2.1" height="2"/><rect x="24.8" y="248.1" width="2.1" height="2"/><rect x="24.8" y="251.4" width="2.1" height="2"/><rect x="24.8" y="254.7" width="2.1" height="2"/><rect x="24.8" y="258" width="2.1" height="2"/><rect x="28.1" y="248.1" width="2.1" height="2"/><rect x="28.1" y="251.4" width="2.1" height="2"/><rect x="28.1" y="254.7" width="2.1" height="2"/><rect x="28.1" y="258" width="2.1" height="2"/></g>
<g fill="#dcdcdc"><rect x="13.8" y="280.9" width="2.3" height="16.1"/><rect x="17.2" y="287.2" width="2.1" height="9.8"/><rect x="20.7" y="284.2" width="2.1" height="12.8"/><rect x="24" y="283" width="2.2" height="14"/><rect x="27.4" y="290.1" width="1.9" height="6.9"/></g>
<g fill="#f0f0f0"><rect x="13.8" y="318" width="16.4" height="2.1"/><rect x="13.8" y="321.2" width="10.3" height="2"/><rect x="13.8" y="324.9" width="13.2" height="2.1"/><rect x="13.8" y="328" width="14.3" height="2"/><rect x="13.8" y="331.3" width="7.2" height="2"/></g>
<g fill="none" stroke="#cbcbcb" stroke-width=".9"><path d="M14.1 363.5C15 360 16.5 358.6 18.2 359.3C20.5 360.3 22 363 24.5 362.6C27 362.2 28.8 359.5 30 357.2"/><path d="M14.1 369C15 365.5 16.5 364.1 18.2 364.8C20.5 365.8 22 368.5 24.5 368.1C27 367.7 28.8 365 30 362.7"/></g>
<path d="M13.8 393.4L18.9 396.6L22.6 395.3L25.1 396.4L28.1 395.6L30.2 393.8V407.7H13.8z" fill="#f2f2f2"/><path d="M13.8 398L18.9 400.6L22.6 399L25.4 398.2L26.6 400.3L30.2 397.4V407.7H13.8z" fill="#cbcbcb"/>
<circle cx="22.2" cy="436.6" r="7.5" fill="#cbcbcb"/><path d="M22.4 428.6V436.4H30.2" fill="none" stroke="#484848" stroke-width="1"/>
<g fill="none" stroke="#a9a9a9" stroke-width=".75"><path d="M21.8 466.2L29.8 470.8L28.1 481.5L15.1 481.9L14.2 470.6z"/><path d="M22 475L21.8 466.2M22 475L29.8 470.8M22 475L28.1 481.5M22 475L15.1 481.9M22 475L14.2 470.6"/><path d="M21.9 469.5L26.5 472.8L24.8 478.5L18.2 478.2L17.5 472.5z"/><path d="M22 471.8L24 474L23.2 476.6L20.6 476.4L20 474z"/></g>
<g fill="#cbcbcb"><circle cx="26" cy="506.8" r="3.3"/><circle cx="17.4" cy="510.1" r="2.8"/><circle cx="22.2" cy="514.1" r="2.1"/><circle cx="18" cy="517.2" r="1.8"/><circle cx="27" cy="515.6" r="1"/></g>
<g fill="#cbcbcb"><rect x="13.8" y="540" width="6.4" height="15.9"/><rect x="20.8" y="540" width="4.5" height="10"/><rect x="25.8" y="540" width="4.2" height="4"/><rect x="25.8" y="544.5" width="4.2" height="5.5"/><rect x="20.8" y="550.5" width="9.2" height="5.4"/></g>
<path d="M15 588A7 7 0 0 1 17.05 583.05M19.38 581.51A7 7 0 0 1 29 588" fill="none" stroke="#dcdcdc" stroke-width="2"/><path d="M18.4 582L21.3 589.2A1.2 1.2 0 0 0 23.8 588.6z" fill="#dcdcdc"/>
<circle cx="22.1" cy="622" r="7.4" fill="#cbcbcb"/><g fill="none" stroke="#484848" stroke-width=".65"><ellipse cx="22.1" cy="622" rx="3.4" ry="7.4"/><line x1="22.1" y1="614.6" x2="22.1" y2="629.4"/><line x1="14.7" y1="622" x2="29.5" y2="622"/><line x1="15.6" y1="618.4" x2="28.6" y2="618.4"/><line x1="15.6" y1="625.6" x2="28.6" y2="625.6"/></g>
<path d="M14.6 658.5V651.8H29.4V658.5" fill="none" stroke="#e0e0e0" stroke-width="1.2"/><path d="M17 658.5L19 655.5L22 657.5L25.5 655L27.5 658.5z" fill="#cbcbcb"/>
</svg>
<!-- green annotation -->
<svg width="1074" height="662" viewBox="0 0 1074 662">
<defs><filter id="sh" x="-30%" y="-30%" width="160%" height="160%"><feDropShadow dx="2.5" dy="3" stdDeviation="2" flood-color="#000" flood-opacity=".38"/></filter></defs>
<g filter="url(#sh)">
<rect x="35.5" y="80.6" width="44" height="559.6" fill="none" stroke="#0e9f74" stroke-width="3"/>
</g>
<g filter="url(#sh)">
<path d="M840.9 89L819.45 93.45L820.6 97.45L826.3 97.2L789.07 127.13A2 2 0 0 0 791.53 130.27L829.4 101.3L827.05 106.7L831.4 108.75z" fill="#0e9f74"/>
</g>
</svg>

</body></html>
